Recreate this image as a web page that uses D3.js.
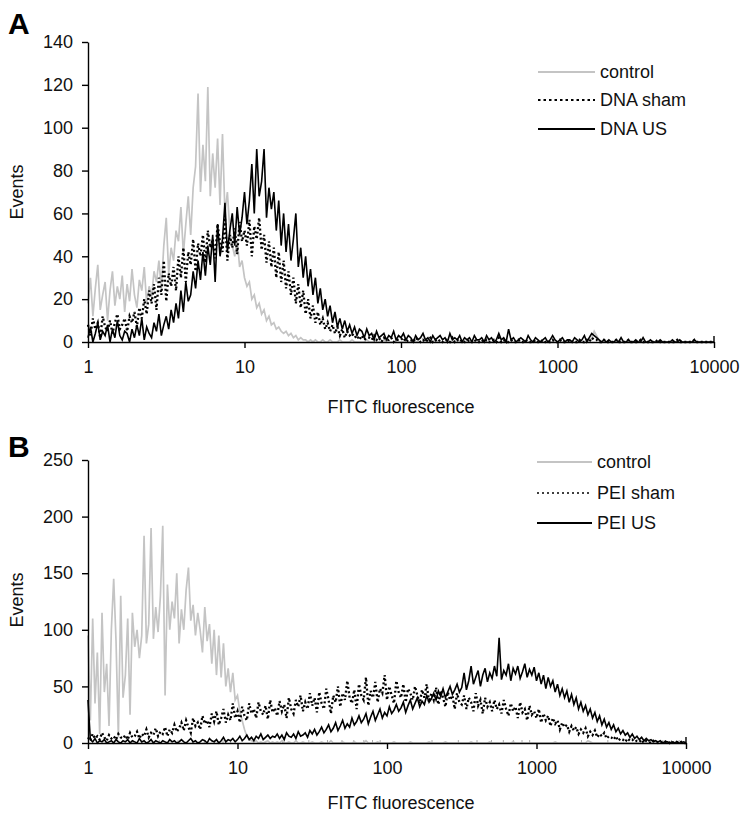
<!DOCTYPE html>
<html><head><meta charset="utf-8">
<script src="https://cdn.jsdelivr.net/npm/d3@7"></script>
<style>body{margin:0;background:#fff}svg{display:block}text{font-family:"Liberation Sans",Arial,sans-serif}</style>
</head><body>
<svg id="chart" width="750" height="819"></svg>
<script>
// Histogram channels: 64 channels per decade, channel i sits at 10^(i/64)
const channelsPerDecade = 64;
const xTicks = [1, 10, 100, 1000, 10000];
const yTicksA = [0, 20, 40, 60, 80, 100, 120, 140];
const yTicksB = [0, 50, 100, 150, 200, 250];
const legendA = ["control", "DNA sham", "DNA US"];
const legendB = ["control", "PEI sham", "PEI US"];

const aControl = [
18,30,12,25,36,15,22,28,10,24,33,17,26,20,31,14,
27,19,34,22,16,29,24,35,18,26,21,33,28,38,25,45,
58,32,44,38,52,47,63,41,55,68,50,72,82,116,70,92,
75,119,68,88,72,95,64,97,60,70,52,45,40,48,35,38,
30,26,28,20,22,16,18,13,15,10,12,8,9,6,7,5,
4,5,3,4,2,3,1,2,1,1,0,1,0,1,0,0,
1,0,0,1,0,0,0,1,0,0,0,0,1,0,0,0,
0,0,1,0,0,0,0,0,0,1,0,0,0,0,0,0,
0,0,0,0,0,0,0,0,0,0,0,0,0,0,0,0,
0,0,0,0,0,0,0,0,0,0,0,0,0,0,0,0,
0,0,0,0,0,0,0,0,0,0,0,0,0,0,0,0,
0,0,0,0,0,0,0,0,0,0,0,0,0,0,0,0,
0,0,0,0,0,0,0,0,0,0,0,0,0,0,2,5,
3,1,0,0,0,0,0,0,0,0,0,0,0,0,0,0,
0,0,0,0,0,0,0,0,0,0,0,0,0,0,0,0,
0,0,0,0,0,0,0,0,0,0,0,0,0,0,0,0,0];

const aSham = [
8,3,11,6,9,2,12,7,5,10,4,9,13,6,8,11,
5,12,9,14,7,16,11,20,13,24,18,27,15,30,22,38,
19,32,26,35,24,40,30,44,28,42,36,48,33,46,40,50,
37,52,44,48,39,55,46,42,58,38,50,44,53,41,56,47,
52,45,57,40,54,48,58,43,50,37,47,35,44,30,42,28,
38,25,33,22,30,18,27,16,24,13,20,11,17,9,14,8,
11,6,9,5,8,4,7,3,6,2,5,3,4,2,3,1,
3,1,2,2,1,3,1,2,0,2,1,1,2,0,1,1,
1,2,0,1,1,0,2,1,0,1,0,1,2,0,1,0,
1,0,1,1,0,2,0,1,0,1,0,0,1,0,1,0,
0,1,0,1,0,0,1,0,2,0,1,0,0,1,0,0,
1,0,0,1,0,0,0,1,0,0,1,0,0,0,1,0,
0,1,0,0,0,1,0,0,0,1,0,0,1,0,2,1,
1,0,0,1,0,0,0,0,1,0,0,0,0,1,0,0,
0,0,1,0,0,0,0,0,0,1,0,0,0,0,0,0,
0,1,0,0,0,0,0,0,1,0,0,0,0,0,0,0,0];

const aUS = [
2,7,0,4,9,1,5,3,8,0,6,2,10,3,1,5,
4,0,6,2,8,3,11,1,7,4,2,9,5,13,3,8,
12,6,15,9,18,11,24,14,28,19,22,33,25,38,29,42,
31,45,36,50,28,55,40,48,65,42,52,60,45,63,50,58,
70,55,66,83,60,90,68,75,90,58,72,62,70,52,66,45,
60,42,55,38,48,60,35,44,30,40,26,34,22,30,18,25,
15,20,12,17,9,14,7,11,6,10,5,8,4,7,3,6,
5,2,6,3,4,1,5,2,3,4,1,3,2,5,1,3,
2,4,1,3,2,0,3,1,2,4,1,2,0,3,1,2,
3,1,2,0,4,1,2,1,3,0,2,1,2,0,3,1,
1,2,0,3,1,2,0,1,4,1,2,0,6,1,2,0,
1,2,1,0,3,1,0,2,1,0,1,2,0,1,3,1,
0,1,2,0,1,1,0,2,1,0,1,3,0,2,4,3,
2,1,0,1,0,1,0,0,1,0,2,0,0,1,0,0,
1,0,0,2,0,0,1,0,0,0,1,0,0,0,0,1,
0,0,1,0,0,0,0,0,1,0,0,0,0,0,0,0,0];

const bControl = [
95,20,110,35,80,8,115,45,70,15,100,145,90,5,130,40,
60,110,25,115,85,100,75,95,183,88,105,190,92,120,98,130,
192,42,140,100,125,110,150,88,118,100,135,155,108,122,95,115,
100,80,120,90,105,70,100,60,95,58,88,50,66,45,62,38,
42,28,20,12,6,3,2,1,2,0,1,0,1,2,0,1,
0,1,0,2,0,0,1,0,0,2,0,0,1,0,0,0,
1,0,0,0,1,0,0,0,2,0,0,0,0,1,0,0,
0,0,1,0,0,0,0,2,0,0,0,0,1,0,0,0,
0,0,0,1,0,0,0,0,0,0,1,0,0,0,0,0,
0,0,1,0,0,0,0,0,0,1,0,0,0,0,0,0,
0,0,0,0,1,0,0,0,0,0,0,0,1,0,0,0,
0,0,0,0,0,0,1,0,0,0,0,0,0,0,0,0,
0,0,0,0,0,0,0,0,1,0,0,0,0,0,0,0,
0,0,0,0,0,0,2,1,0,0,0,0,0,0,0,0,
0,0,0,0,0,0,0,0,0,0,0,0,0,0,0,0,
0,0,0,0,0,0,0,0,0,0,0,0,0,0,0,0,0];

const bSham = [
5,2,8,4,6,3,9,5,2,7,4,6,3,8,5,4,
7,3,9,5,6,10,4,8,6,12,5,9,7,13,6,10,
8,14,6,12,9,16,10,13,18,11,20,14,9,22,15,18,
12,24,17,20,14,26,19,28,16,22,30,18,25,20,35,22,
28,18,32,24,20,35,26,30,22,36,28,25,33,21,38,27,
31,24,37,28,34,22,40,30,26,38,32,42,28,36,30,44,
33,40,27,45,35,30,48,38,26,42,36,50,32,44,38,55,
40,35,47,30,52,42,38,58,33,46,40,54,36,48,44,60,
38,50,42,35,55,45,40,52,36,48,44,38,50,42,35,47,
40,52,36,44,38,49,34,46,40,32,45,38,42,30,44,36,
34,42,30,40,36,28,44,33,38,26,40,32,36,28,38,30,
34,26,38,30,24,35,28,32,22,36,27,30,20,33,25,28,
22,30,18,26,20,24,15,22,17,20,12,18,14,16,10,15,
11,14,8,12,9,13,6,10,7,11,5,8,6,9,4,6,
5,3,6,2,4,3,1,4,2,3,1,2,1,3,0,2,
1,0,2,1,0,1,0,1,2,0,1,0,1,0,1,0,0];

const bUS = [
38,3,1,4,0,2,1,3,0,1,2,0,3,1,0,2,
1,3,0,2,1,0,4,1,2,0,1,3,0,2,1,0,
2,1,0,3,1,2,0,1,3,1,0,2,4,1,2,0,
1,3,2,0,4,2,1,3,0,2,5,1,3,2,4,1,
3,6,2,4,7,3,5,2,6,4,8,3,5,7,4,6,
5,8,4,7,3,9,6,5,8,4,10,6,7,9,5,11,
8,12,7,10,14,9,12,16,10,13,18,11,15,20,13,17,
14,22,16,19,24,18,21,26,17,23,28,20,25,30,22,27,
24,32,26,29,34,28,31,36,27,33,38,30,35,40,32,37,
34,42,36,39,44,38,46,41,48,40,45,50,43,47,52,45,
49,62,47,55,68,52,58,64,50,60,66,54,62,57,68,59,
93,56,64,60,70,55,66,61,68,57,63,70,58,65,60,67,
55,62,52,60,48,58,50,55,45,52,42,48,40,46,36,43,
34,40,30,36,28,33,25,30,22,27,19,24,16,21,14,18,
12,16,10,13,8,11,7,9,5,8,4,6,3,5,2,4,
2,3,1,2,1,2,0,1,1,0,1,0,1,0,0,1,0];

const GRAY = "#c4c4c4";
const svg = d3.select("#chart");

function panel(cfg) {
  const x = d3.scaleLog().domain([1, 10000]).range([cfg.x0, cfg.x1]);
  const y = d3.scaleLinear().domain([0, cfg.yMax]).range([cfg.yBottom, cfg.yTop]);
  const g = svg.append("g");
  const toPts = arr => arr.map((v, i) => [Math.pow(10, i / channelsPerDecade), v]);
  const line = d3.line().x(d => x(d[0])).y(d => y(d[1]));

  if (cfg.minor) {
    const minors = [];
    for (let d = 1; d < 10000; d *= 10) for (let k = 2; k <= 9; k++) minors.push(d * k);
    g.selectAll(".minor").data(minors).enter().append("line")
      .attr("x1", d => x(d)).attr("x2", d => x(d))
      .attr("y1", cfg.yBottom).attr("y2", cfg.yBottom - 3)
      .attr("stroke", "#aaa").attr("stroke-width", 1);
  }

  g.append("path").attr("d", line(toPts(cfg.ctrl))).attr("fill", "none")
    .attr("stroke", GRAY).attr("stroke-width", 1.7);
  g.append("path").attr("d", line(toPts(cfg.sham))).attr("fill", "none")
    .attr("stroke", "#000").attr("stroke-width", 2.3).attr("stroke-dasharray", "2,2.5");
  g.append("path").attr("d", line(toPts(cfg.us))).attr("fill", "none")
    .attr("stroke", "#000").attr("stroke-width", 1.6);

  const ya = g.append("g").attr("transform", `translate(${cfg.x0},0)`)
    .call(d3.axisLeft(y).tickValues(cfg.yTicks).tickSize(6).tickPadding(9).tickSizeOuter(0));
  ya.select(".domain").attr("stroke-width", 1.4);
  ya.selectAll(".tick line").attr("stroke-width", 1.4);
  ya.selectAll("text").attr("font-size", 18).attr("fill", "#111")
    .attr("font-family", "Liberation Sans, Arial, sans-serif");

  const xa = g.append("g").attr("transform", `translate(0,${cfg.yBottom})`)
    .call(d3.axisBottom(x).tickValues(xTicks).tickFormat(d3.format("d")).tickSize(6).tickPadding(12).tickSizeOuter(0));
  xa.select(".domain").attr("stroke-width", 1.6);
  xa.selectAll(".tick line").attr("stroke-width", 1.4);
  xa.selectAll("text").attr("font-size", 18).attr("fill", "#111")
    .attr("font-family", "Liberation Sans, Arial, sans-serif");
  g.append("line").attr("x1", x(10000)).attr("x2", x(10000))
    .attr("y1", cfg.yBottom - 6).attr("y2", cfg.yBottom).attr("stroke", "#000").attr("stroke-width", 1.4);

  g.append("text").attr("x", cfg.titleX).attr("y", cfg.titleY).attr("text-anchor", "middle")
    .attr("font-size", 18).attr("fill", "#111").text("FITC fluorescence");
  g.append("text").attr("transform", `translate(23,${cfg.evY}) rotate(-90)`).attr("text-anchor", "middle")
    .attr("font-size", 18).attr("fill", "#111").text("Events");
  g.append("text").attr("x", 8).attr("y", cfg.letterY).attr("font-size", 30).attr("font-weight", "bold")
    .attr("fill", "#000").text(cfg.letter);

  const styles = [
    {stroke: GRAY, w: 2, dash: null},
    {stroke: "#000", w: cfg.legDotW, dash: cfg.legDash},
    {stroke: "#000", w: 2, dash: null}
  ];
  cfg.legend.forEach((name, k) => {
    const ly = cfg.legY[k];
    const l = g.append("line").attr("x1", cfg.legX0).attr("x2", cfg.legX1).attr("y1", ly).attr("y2", ly)
      .attr("stroke", styles[k].stroke).attr("stroke-width", styles[k].w);
    if (styles[k].dash) l.attr("stroke-dasharray", styles[k].dash);
    g.append("text").attr("x", cfg.legX1 + 5).attr("y", ly + 6).attr("font-size", 18).attr("fill", "#111").text(name);
  });
}

panel({letter: "A", letterY: 34, x0: 88, x1: 714, yTop: 42, yBottom: 342, yMax: 140, yTicks: yTicksA,
  ctrl: aControl, sham: aSham, us: aUS, titleX: 401, titleY: 413, evY: 192,
  legend: legendA, legX0: 538, legX1: 595, legY: [72, 100, 129], legDash: "2.5,3", legDotW: 2.2, minor: false});
panel({letter: "B", letterY: 457, x0: 88, x1: 686, yTop: 460, yBottom: 743, yMax: 250, yTicks: yTicksB,
  ctrl: bControl, sham: bSham, us: bUS, titleX: 401, titleY: 809, evY: 600,
  legend: legendB, legX0: 537, legX1: 592, legY: [462, 493, 523], legDash: "2,3", legDotW: 1.4, minor: true});
</script>
</body></html>
